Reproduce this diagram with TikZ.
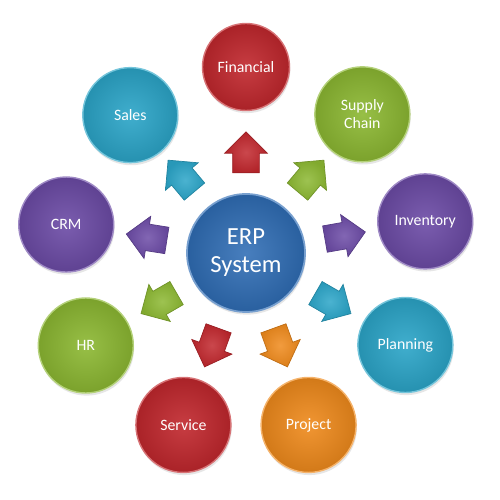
\documentclass[tikz,border=0pt]{standalone}
\usepackage{fontspec}
\setmainfont{Carlito}
\usetikzlibrary{shapes.arrows,shadows}
\definecolor{erpblue}{HTML}{2F6DB5}
\definecolor{erpred}{HTML}{C1272D}
\definecolor{erpgreen}{HTML}{8CB832}
\definecolor{erppurple}{HTML}{6C4BA6}
\definecolor{erpcyan}{HTML}{2BA5C8}
\definecolor{erporange}{HTML}{EF8A1C}

\begin{document}
\begin{tikzpicture}[
core/.style={
  circle,
  draw=erpblue!65!white,
  line width=1pt,
  inner color=erpblue!88!white,
  outer color=erpblue!88!black,
  minimum size=2.36cm,
  text=white,
  align=center,
  font=\fontsize{14}{16}\selectfont,
  drop shadow={opacity=0.2,shadow xshift=0.5pt,shadow yshift=-1.5pt}
},
mod/.style={
  circle,
  draw=#1!65!white,
  line width=0.8pt,
  inner color=#1!90!white,
  outer color=#1!88!black,
  minimum size=1.9cm,
  text=white,
  align=center,
  font=\fontsize{9}{10}\selectfont,
  drop shadow={opacity=0.2,shadow xshift=0.5pt,shadow yshift=-1.5pt}
},
blk/.style={
  single arrow,
  draw=#1!80!black,
  line width=0.4pt,
  inner color=#1!85!white,
  outer color=#1!92!black,
  inner xsep=0.1cm,
  inner ysep=0.26cm,
  minimum height=0.82cm,
  single arrow head extend=0.16cm
}
]
\useasboundingbox (-4.92,-4.94) rectangle (5.08,5.06);

\node[core] (erp) at (0,0) {ERP\\System};

\node[mod=erpred,minimum size=1.74cm] (fin) at (90:3.72) {Financial};
\node[mod=erpgreen] (supply) at (50:3.62) {Supply\\Chain};
\node[mod=erppurple] (inv) at (10:3.64) {Inventory};
\node[mod=erpcyan] (plan) at (-30:3.68) {Planning};
\node[mod=erporange] (proj) at (-70:3.66) {Project};
\node[mod=erpred] (serv) at (-110:3.66) {Service};
\node[mod=erpgreen] (hr) at (-150:3.70) {HR};
\node[mod=erppurple] (crm) at (171:3.64) {CRM};
\node[mod=erpcyan] (sales) at (130:3.60) {Sales};

\node[blk=erpred,rotate=90] (tofin) at (90:1.88) {};
\node[blk=erpgreen,rotate=50] (tosupply) at (50:1.88) {};
\node[blk=erppurple,rotate=10] (toinv) at (10:1.88) {};
\node[blk=erpcyan,rotate=-30] (toplan) at (-30:1.88) {};
\node[blk=erporange,rotate=-70] (toproj) at (-70:1.88) {};
\node[blk=erpred,rotate=-110] (toserv) at (-110:1.88) {};
\node[blk=erpgreen,rotate=-150] (tohr) at (-150:1.88) {};
\node[blk=erppurple,rotate=171] (tocrm) at (171:1.88) {};
\node[blk=erpcyan,rotate=130] (tosales) at (130:1.88) {};
\end{tikzpicture}
\end{document}
